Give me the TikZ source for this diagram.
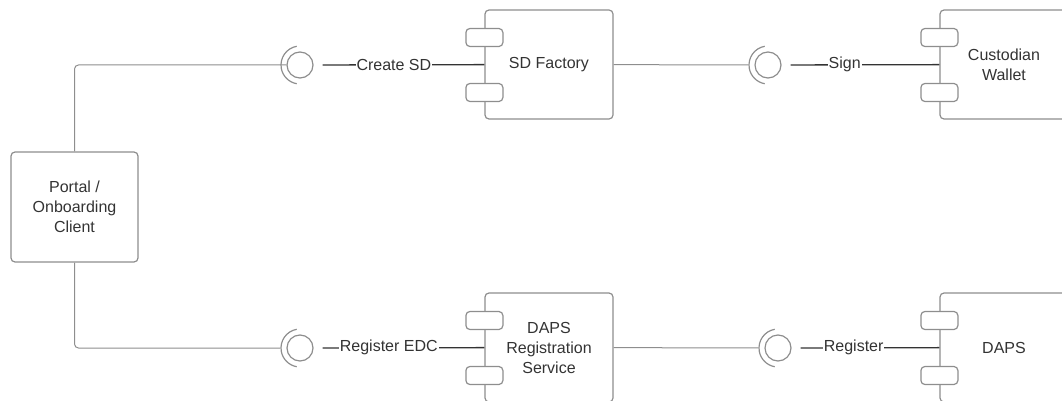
\documentclass[tikz,border=0pt]{standalone}
\usepackage{fontspec}
\setmainfont{Liberation Sans}
\usetikzlibrary{calc}
\definecolor{boxgray}{HTML}{8E8E8E}
\definecolor{inkgray}{HTML}{333333}

\begin{document}
\begin{tikzpicture}[x=1pt,y=-1pt,line width=1.2pt,
		main node/.style={draw=boxgray,rounded corners=4pt,minimum width=128pt,minimum height=109pt,
			inner sep=0pt,align=center,text=inkgray,font=\fontsize{16}{20}\selectfont},
		port node/.style={draw=boxgray,fill=white,rounded corners=4pt,minimum width=37pt,minimum height=18pt},
		socket node/.style={circle,draw=boxgray,minimum size=26pt,inner sep=0pt},
		iface text/.style={fill=white,inner sep=1pt,text=inkgray,font=\fontsize{16}{20}\selectfont},
		gray line/.style={draw=boxgray,line width=1pt},
		dark line/.style={draw=inkgray,line width=1.3pt}]
	\useasboundingbox (0,0) rectangle (1062,401);
	\clip (0,0) rectangle (1062,401);

	\node[main node,minimum width=127pt,minimum height=110pt] (1) at (74.5,207) {Portal /\\Onboarding\\Client};
	\node[main node] (2) at (549,64.5) {SD Factory};
	\node[main node] (3) at (1004,64.5) {Custodian\\Wallet};
	\node[main node] (4) at (549,347.5) {DAPS\\Registration\\Service};
	\node[main node] (5) at (1004,347.5) {DAPS};

	% ports on the left side of each component
	\foreach \n in {2,...,5} {
		\node[port node] at ($(\n.west)+(0,-27)$) {};
		\node[port node] at ($(\n.west)+(0,28)$) {};
	}

	% sockets with their half rings
	\node[socket node] (s1) at (300,65) {};
	\node[socket node] (s2) at (768,65) {};
	\node[socket node] (s3) at (300,348) {};
	\node[socket node] (s4) at (778,348) {};
	\foreach \s in {s1,s2,s3,s4}
		\draw[boxgray] ($(\s)+(100:19pt)$) arc (100:260:19pt);

	\path[gray line,rounded corners=4pt,shorten >=6pt]
	(1) |- (s1)
	(1) |- (s3);
	\path[gray line,shorten >=6pt]
	(2) edge (s2)
	(4) edge (s4);

	\path[dark line,shorten <=9pt]
	(s1) edge node[iface text,pos=0.47] {Create SD} (2)
	(s2) edge node[iface text,pos=0.40] {Sign} (3)
	(s3) edge node[iface text,pos=0.44] {Register EDC} (4)
	(s4) edge node[iface text,pos=0.42] {Register} (5)
;
\end{tikzpicture}
\end{document}
